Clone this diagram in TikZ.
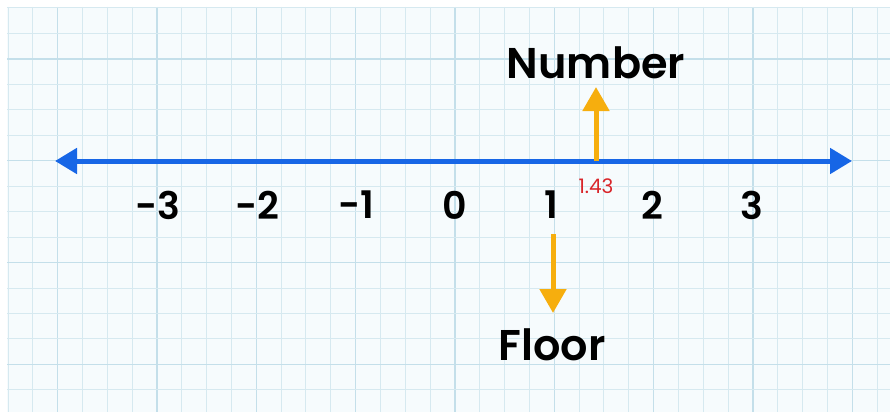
\documentclass[tikz,border=0pt]{standalone}
\usepackage{fontspec}
\setmainfont{Poppins}[BoldFont={* SemiBold}]
\usetikzlibrary{arrows.meta}
\definecolor{paper}{HTML}{F6FBFD}
\definecolor{gridc}{HTML}{D6E9F0}
\definecolor{gridd}{HTML}{C4DFEA}
\definecolor{lineblue}{HTML}{1766E6}
\definecolor{amber}{HTML}{F6AE0E}
\definecolor{redlab}{HTML}{D9252A}
\tikzset{
  numlab/.style={font=\fontsize{38}{40}\selectfont\bfseries, text=black, inner sep=0pt},
  biglab/.style={font=\fontsize{43}{46}\selectfont\bfseries, text=black, inner sep=0pt, anchor=base},
  axis/.style={line width=5pt, draw=lineblue, {Triangle[length=22pt,width=25pt]}-{Triangle[length=22pt,width=25pt]}},
  pointer/.style={line width=5pt, draw=amber, -{Triangle[length=24pt,width=26pt]}},
}
\begin{document}
\begin{tikzpicture}[x=1pt,y=-1pt]
\useasboundingbox (0,0) rectangle (890,412);
\fill[white] (0,0) rectangle (890,412);
\fill[paper] (7,7) rectangle (890,412);
% grid
\foreach \i in {0,...,35} {
  \pgfmathsetmacro{\xx}{8+24.83*\i}
  \pgfmathtruncatemacro{\m}{mod(\i,4)}
  \ifnum\m=2
    \draw[gridd, line width=1.3pt] (\xx,7) -- (\xx,412);
  \else
    \draw[gridc, line width=1pt] (\xx,7) -- (\xx,412);
  \fi
}
\foreach \j in {0,...,15} {
  \pgfmathsetmacro{\yy}{8+25.46*\j}
  \pgfmathtruncatemacro{\m}{mod(\j,4)}
  \ifnum\m=2
    \draw[gridd, line width=1.3pt] (7,\yy) -- (890,\yy);
  \else
    \draw[gridc, line width=1pt] (7,\yy) -- (890,\yy);
  \fi
}
% number line
\coordinate (L) at (55,161);
\coordinate (R) at (852,161);
\draw[axis] (L) -- (R);
% tick labels
\node[numlab] (m3) at (157.5,205) {-3};
\node[numlab] (m2) at (257,205) {-2};
\node[numlab] (m1) at (356,205) {-1};
\node[numlab] (z0) at (455,205) {0};
\node[numlab] (p1) at (551,205) {1};
\node[numlab] (p2) at (652,205) {2};
\node[numlab] (p3) at (752,205) {3};
% number pointer
\coordinate (nb) at (596,161);
\coordinate (nt) at (596,87);
\draw[pointer] (nb) -- (nt);
\node[biglab] (num) at (596,78) {Number};
\node[font=\fontsize{20}{22}\selectfont, text=redlab, inner sep=0pt, anchor=base] (val) at (596,193) {1.43};
% floor pointer
\coordinate (fb) at (553,234);
\coordinate (ft) at (553,313);
\draw[pointer] (fb) -- (ft);
\node[biglab] (flr) at (552,360) {Floor};
\end{tikzpicture}
\end{document}
